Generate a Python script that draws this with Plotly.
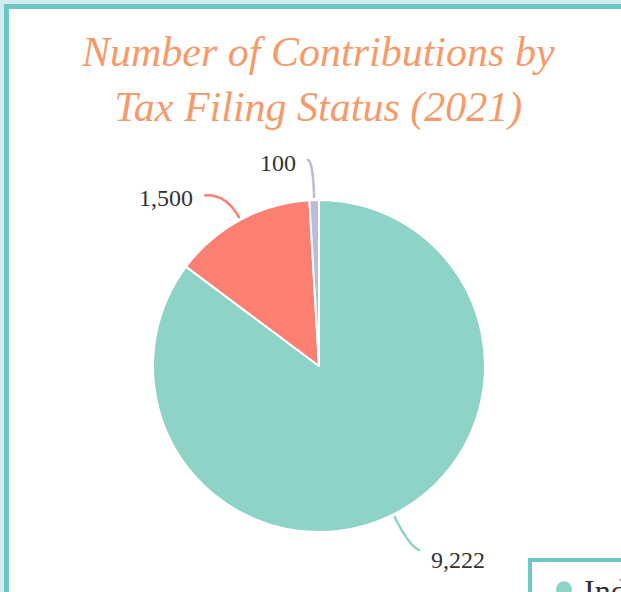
import numpy as np
import plotly.graph_objects as go

# data
statuses = ["Individual", "Joint", "Other"]
contributions = [9222, 1500, 100]
colors = ["#8dd3c7", "#fb8072", "#bebada"]

W, H = 621, 592
TEAL = "#6cc8c6"
BAND = "#d2edf0"

# pie placement in pixels
cx, cy, r = 319, 366, 166


def px(x):
    return x / W


def py(y):
    return 1 - y / H


fig = go.Figure()
fig.add_trace(go.Pie(
    labels=statuses, values=contributions, sort=False, direction="clockwise",
    rotation=0, textinfo="none", hoverinfo="label+value",
    marker=dict(colors=colors, line=dict(color="white", width=2)),
    domain=dict(x=[px(cx - r), px(cx + r)], y=[py(cy + r), py(cy - r)]),
    showlegend=False,
))

# legend entries with circle markers
for name, col in zip(statuses, colors):
    fig.add_trace(go.Scatter(x=[None], y=[None], mode="markers", name=name,
                             marker=dict(color=col, size=18, symbol="circle")))

# leader lines and outside labels, computed from slice mid-angles
vals = np.array(contributions, dtype=float)
cum = np.cumsum(vals) / vals.sum()
mids = (cum - vals / vals.sum() / 2) * 2 * np.pi
ext = [38, 30, 42]
hor = [10, 22, 6]
dys = [10, 3, 3]
shapes = []
annotations = []
for v, col, a, L, h, dy in zip(contributions, colors, mids, ext, hor, dys):
    sx, sy = np.sin(a), -np.cos(a)
    x0, y0 = cx + (r + 2) * sx, cy + (r + 2) * sy
    x1, y1 = cx + (r + L) * sx, cy + (r + L) * sy
    side = 1 if sx > 0 else -1
    x2, y2 = x1 + side * h, y1 + 2
    shapes.append(dict(
        type="path", xref="paper", yref="paper",
        path=f"M {px(x0)},{py(y0)} Q {px(x1)},{py(y1)} {px(x2)},{py(y2)}",
        line=dict(color=col, width=2.5),
    ))
    annotations.append(dict(
        x=px(x2 + side * 9), y=py(y2 + dy), xref="paper", yref="paper",
        text=f"{v:,}", showarrow=False,
        xanchor="left" if side > 0 else "right", yanchor="middle",
        font=dict(family="Liberation Serif, serif", size=24, color="#333333"),
    ))

# frame
frame = [
    dict(type="rect", xref="paper", yref="paper", layer="below",
         x0=px(0), y0=py(0), x1=px(W + 20), y1=py(H + 20),
         fillcolor=BAND, line=dict(width=0)),
    dict(type="rect", xref="paper", yref="paper", layer="below",
         x0=px(4), y0=py(4), x1=px(W + 20), y1=py(H + 20),
         fillcolor=TEAL, line=dict(width=0)),
    dict(type="rect", xref="paper", yref="paper", layer="below",
         x0=px(9), y0=py(9), x1=px(W + 20), y1=py(H + 20),
         fillcolor="white", line=dict(width=0)),
]

annotations.append(dict(
    x=px(318), y=py(80), xref="paper", yref="paper",
    text="Number of Contributions by<br>Tax Filing Status (2021)",
    showarrow=False, xanchor="center", yanchor="middle",
    font=dict(family="Liberation Serif, serif", size=42, color="#f79a6a",
              style="italic"),
))

fig.update_layout(
    width=W, height=H,
    margin=dict(l=0, r=0, t=0, b=0, autoexpand=False),
    paper_bgcolor="white", plot_bgcolor="rgba(0,0,0,0)",
    xaxis=dict(visible=False), yaxis=dict(visible=False),
    shapes=frame + shapes,
    annotations=annotations,
    showlegend=True,
    legend=dict(x=px(528), y=py(558), xanchor="left", yanchor="top",
                bgcolor="white", bordercolor=TEAL, borderwidth=4,
                indentation=12,
                font=dict(family="Liberation Serif, serif", size=32,
                          color="#333333")),
)

fig.write_html("out.html", config={"displayModeBar": False},
               post_script="document.body.style.margin='0';"
                           "document.body.style.overflow='hidden';")
